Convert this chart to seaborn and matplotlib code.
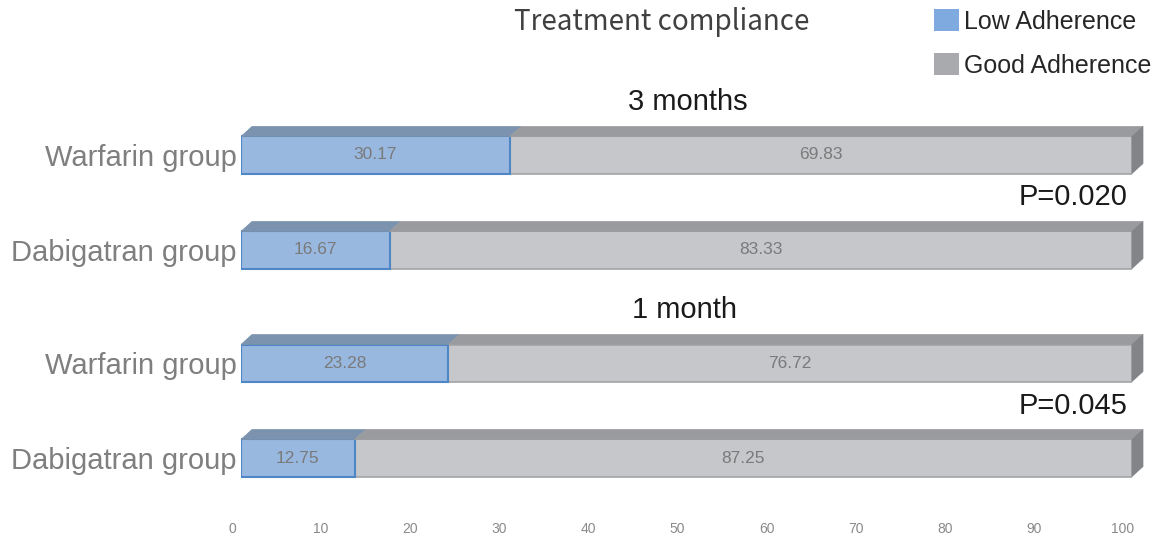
import numpy as np
import pandas as pd
import matplotlib
matplotlib.use("Agg")
import matplotlib.pyplot as plt
import seaborn as sns
from matplotlib.patches import Polygon, Patch
from matplotlib.transforms import ScaledTranslation

# ---- data ----
groups = ["Warfarin group", "Dabigatran group", "Warfarin group", "Dabigatran group"]
periods = ["3 months", "3 months", "1 month", "1 month"]
low_adherence = [30.17, 16.67, 23.28, 12.75]
good_adherence = [69.83, 83.33, 76.72, 87.25]
p_values = ["P=0.020", "P=0.045"]
x_ticks = [0, 10, 20, 30, 40, 50, 60, 70, 80, 90, 100]
series_names = ["Low Adherence", "Good Adherence"]

# positions (group gap between periods)
ypos = [0.0, 1.0, 2.19, 3.19]

df = pd.DataFrame({
    "group": groups,
    "period": periods,
    "y": ypos,
    "low": low_adherence,
    "good": good_adherence,
})
df["total"] = df["low"] + df["good"]

sns.set_theme(style="white")
plt.rcParams["font.family"] = ["Liberation Sans", "DejaVu Sans"]

W, H = 1161, 539
fig = plt.figure(figsize=(W / 100, H / 100), dpi=100)
ax_left, ax_right = 241, 1132
ax_top, ax_bot = 100, 500
ax = fig.add_axes([ax_left / W, 1 - ax_bot / H, (ax_right - ax_left) / W, (ax_bot - ax_top) / H])

blue_front = "#98b8e0"
blue_edge = "#4f86c6"
blue_top = "#7b93ae"
gray_front = "#c6c7ca"
gray_edge = "#a3a4a7"
gray_top = "#9a9b9e"
side_col = "#838488"

sns.barplot(data=df, x="total", y="y", orient="h", native_scale=True, color=gray_front,
            saturation=1, width=0.39, errorbar=None, edgecolor=gray_edge, linewidth=1.2, ax=ax)
sns.barplot(data=df, x="low", y="y", orient="h", native_scale=True, color=blue_front,
            saturation=1, width=0.39, errorbar=None, edgecolor=blue_edge, linewidth=1.5, ax=ax)

ax.set_xlim(0, 100)
y_top = -0.579
y_bot = 3.632
ax.set_ylim(y_bot, y_top)

for s in ax.spines.values():
    s.set_visible(False)
ax.set_xlabel("")
ax.set_ylabel("")
ax.grid(False)

# ---- 3D faces ----
dx, dy = 11, 10  # pixels
fig.canvas.draw()
inv = ax.transData.inverted()

def to_data(pts):
    return inv.transform(np.array(pts))

cont_gray, cont_blue = ax.containers[0], ax.containers[1]
for pg in cont_gray.patches:
    x0g = pg.get_x(); x1g = x0g + pg.get_width()
    yc = pg.get_y() + pg.get_height() / 2
    ya = pg.get_y(); yb = pg.get_y() + pg.get_height()
    ytop_d = min(ya, yb); ybot_d = max(ya, yb)
    pb = min(cont_blue.patches, key=lambda p: abs(p.get_y() + p.get_height() / 2 - yc))
    x1b = pb.get_x() + pb.get_width()
    T = ax.transData.transform
    (px0, pyt) = T((x0g, ytop_d)); (px1, pyb) = T((x1g, ybot_d))
    (pxb, _) = T((x1b, ytop_d))
    ax.add_patch(Polygon(to_data([(px0, pyt), (pxb, pyt), (pxb + dx, pyt + dy), (px0 + dx, pyt + dy)]),
                         closed=True, facecolor=blue_top, edgecolor=blue_top, lw=0.5, clip_on=False, zorder=3))
    ax.add_patch(Polygon(to_data([(pxb, pyt), (px1, pyt), (px1 + dx, pyt + dy), (pxb + dx, pyt + dy)]),
                         closed=True, facecolor=gray_top, edgecolor=gray_top, lw=0.5, clip_on=False, zorder=3))
    ax.add_patch(Polygon(to_data([(px1, pyt), (px1 + dx, pyt + dy), (px1 + dx, pyb + dy), (px1, pyb)]),
                         closed=True, facecolor=side_col, edgecolor=side_col, lw=0.5, clip_on=False, zorder=3))

# value labels
ax.bar_label(cont_blue, labels=[f"{v:.2f}" for v in low_adherence], label_type="center",
             color="#7a7a7a", fontsize=12.5)
good_centers = [l + g / 2 for l, g in zip(low_adherence, good_adherence)]
for yy, xc, g in zip(ypos, good_centers, good_adherence):
    ax.text(xc, yy, f"{g:.2f}", ha="center", va="center", color="#7a7a7a", fontsize=12.5)

# ticks
ax.set_yticks(ypos)
ax.set_yticklabels(groups, fontsize=21, color="#7f7f7f")
ax.tick_params(axis="y", length=0, pad=3)
ax.set_xticks(x_ticks)
ax.set_xticklabels([str(t) for t in x_ticks], fontsize=10, color="#8a8a8a")
ax.tick_params(axis="x", length=0, pad=16)
for lbl in ax.get_xticklabels():
    lbl.set_transform(lbl.get_transform() + ScaledTranslation(-9 / 100, 0, fig.dpi_scale_trans))

# titles & annotations
fig.text(662 / W, 1 - 22 / H, "Treatment compliance", ha="center", va="center", fontsize=20,
         color="#404040", family=["Noto Sans CJK SC", "DejaVu Sans"], fontweight="light")
fig.text(688 / W, 1 - 102 / H, periods[0], ha="center", va="center", fontsize=21, color="#1a1a1a")
fig.text(685 / W, 1 - 310 / H, periods[2], ha="center", va="center", fontsize=21, color="#1a1a1a")
fig.text(1073 / W, 1 - 197 / H, p_values[0], ha="center", va="center", fontsize=21, color="#1a1a1a")
fig.text(1073 / W, 1 - 406 / H, p_values[1], ha="center", va="center", fontsize=21, color="#1a1a1a")

# legend
handles = [Patch(facecolor="#7eaadf", edgecolor="none"), Patch(facecolor="#a9aaad", edgecolor="none")]
fig.legend(handles, series_names, loc="upper left", bbox_to_anchor=(934 / W, 1 - 9 / H),
           bbox_transform=fig.transFigure, frameon=False, fontsize=18, handlelength=1.0,
           handleheight=1.0, handletextpad=0.2, labelspacing=0.77, borderpad=0, borderaxespad=0,
           labelcolor="#262626")

fig.savefig("out.png", dpi=100)
